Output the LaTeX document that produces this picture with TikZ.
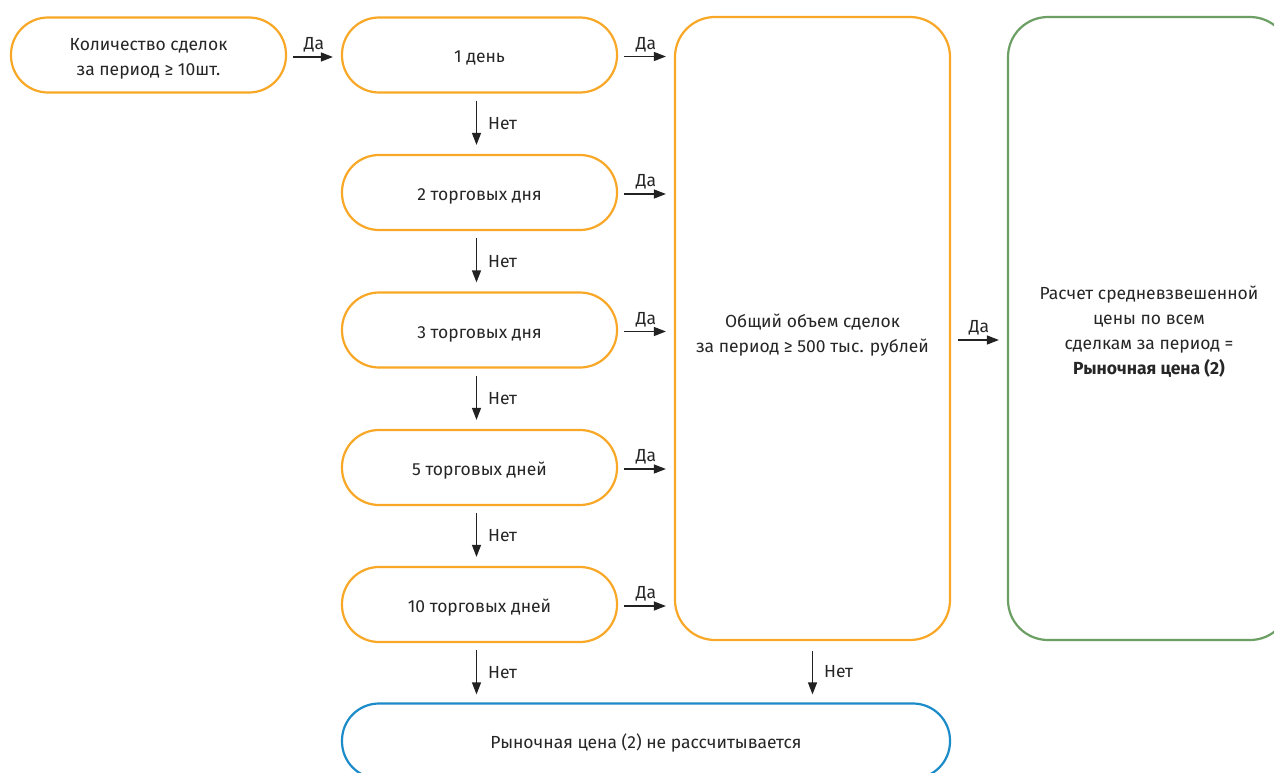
\documentclass[tikz,border=0pt]{standalone}
\usepackage{fontspec}
\setmainfont{Fira Sans}
\usetikzlibrary{arrows.meta}
\definecolor{ora}{HTML}{F8A826}
\definecolor{grn}{HTML}{6C9F63}
\definecolor{blu}{HTML}{1C8BC9}
\definecolor{txt}{HTML}{262626}
\definecolor{arr}{HTML}{222222}
\newcommand{\lowtext}[2]{\raisebox{-#1}[\height][\depth]{\begin{tabular}{@{}c@{}}#2\end{tabular}}}
\tikzset{
  pill/.style={draw=ora, line width=2.2pt, rounded corners=37pt, minimum width=275pt, minimum height=75pt, align=center, text=txt, inner sep=0pt},
  bigbox/.style={draw=ora, line width=2.2pt, rounded corners=40pt, minimum width=275pt, minimum height=623pt, align=center, text=txt, inner sep=0pt},
  greenbox/.style={bigbox, draw=grn, minimum width=282pt},
  bluebox/.style={pill, draw=blu, minimum width=608pt},
  link/.style={draw=arr, line width=1.2pt, -{Triangle[length=12pt,width=9pt]}},
  lab/.style={text=txt, inner sep=1pt},
  yes/.style={lab, above, yshift=3pt},
  no/.style={lab, right, xshift=10pt},
}
\begin{document}
\begin{tikzpicture}[x=1pt,y=-1pt, font=\fontsize{17.5}{25}\selectfont]
\clip (0,0) rectangle (1274,773);
\fill[white] (0,0) rectangle (1274,773);
\node[pill] (cnt) at (148.5,55) {\lowtext{3pt}{Количество сделок\\за период ≥ 10шт.}};
\node[pill] (d1) at (479.5,55) {\lowtext{3pt}{1 день}};
\node[pill] (d2) at (479.5,192.5) {\lowtext{3pt}{2 торговых дня}};
\node[pill] (d3) at (479.5,330) {\lowtext{3pt}{3 торговых дня}};
\node[pill] (d5) at (479.5,467.5) {\lowtext{3pt}{5 торговых дней}};
\node[pill] (d10) at (479.5,604.5) {\lowtext{3pt}{10 торговых дней}};
\node[bigbox] (vol) at (812.5,328.5) {\lowtext{6.5pt}{Общий объем сделок\\за период ≥ 500 тыс. рублей}};
\node[greenbox] (calc) at (1149,328.5) {\lowtext{3.5pt}{Расчет средневзвешенной\\цены по всем\\сделкам за период =\\\textbf{Рыночная цена (2)}}};
\node[bluebox] (none) at (646,741) {\lowtext{2.5pt}{Рыночная цена (2) не рассчитывается}};
% Да arrows
\draw[link, shorten <=6pt, shorten >=8pt] ([yshift=-2pt]cnt.east) -- node[yes] {Да} ([yshift=-2pt]d1.west);
\foreach \b in {d1,d2,d3,d5,d10}{
  \draw[link, shorten <=6pt, shorten >=8pt] ([yshift=-1.5pt]\b.east) -- node[yes] {Да} ([yshift=-1.5pt]\b.east -| vol.west);
}
\draw[link, shorten <=7pt, shorten >=8pt] ([yshift=-11.5pt]vol.east) -- node[yes] {Да} ([yshift=-11.5pt]vol.east -| calc.west);
% Нет arrows
\foreach \a/\b in {d1/d2,d2/d3,d3/d5,d5/d10}{
  \draw[link, shorten <=7pt, shorten >=9pt] ([xshift=-3pt]\a.south) -- node[no] {Нет} ([xshift=-3pt]\b.north);
}
\draw[link, shorten <=7pt, shorten >=8pt] ([xshift=-3pt]d10.south) -- node[no] {Нет} ([xshift=-3pt]d10.south |- none.north);
\draw[link, shorten <=10pt, shorten >=8pt] (vol.south) -- node[no] {Нет} (vol.south |- none.north);
\end{tikzpicture}
\end{document}
